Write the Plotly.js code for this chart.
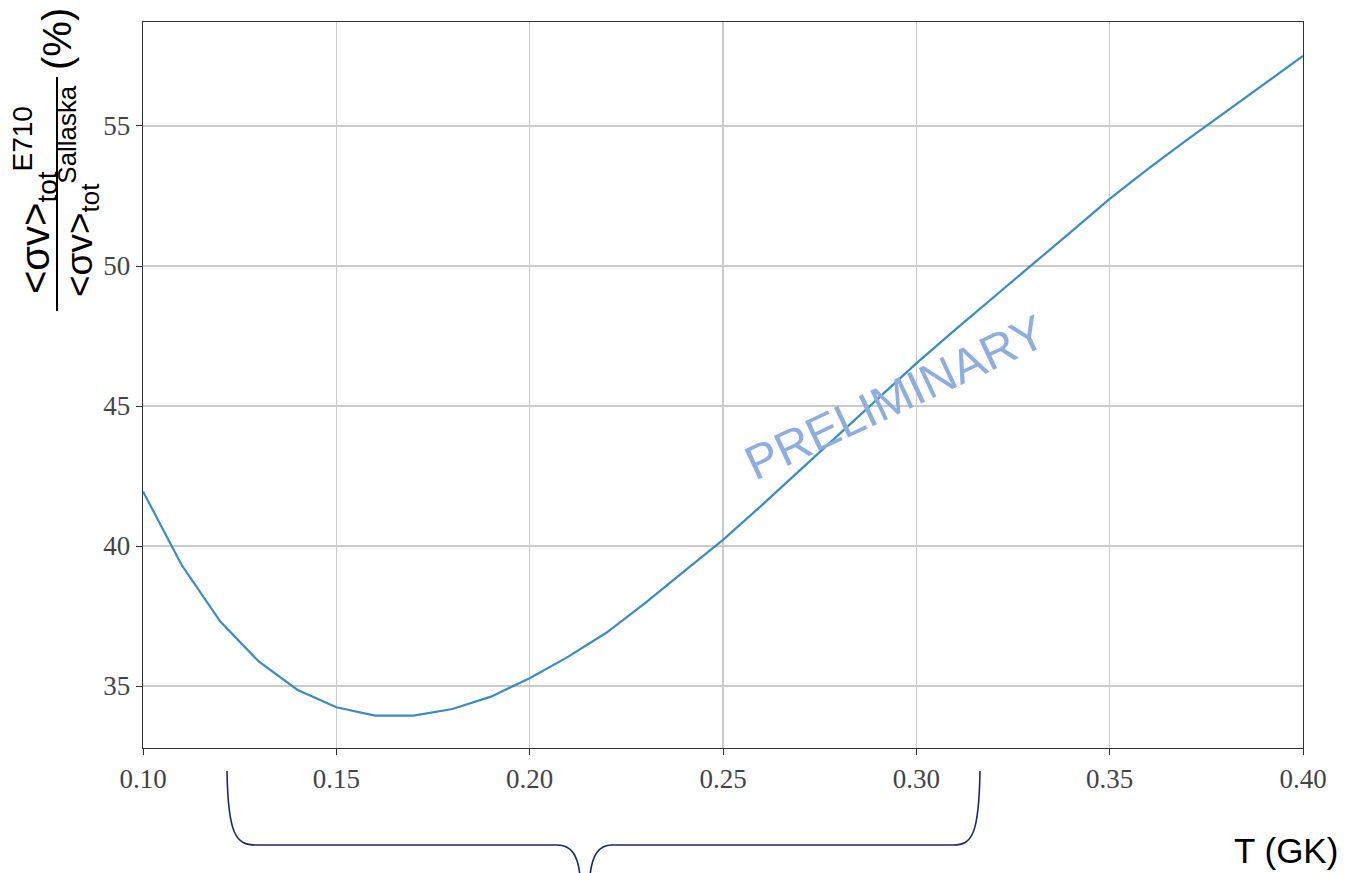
<!DOCTYPE html>
<html>
<head>
<meta charset="utf-8">
<script src="https://cdn.plot.ly/plotly-3.0.1.min.js"></script>
<style>html,body{margin:0;padding:0;background:#fff;}#chart{width:1345px;height:873px;}</style>
</head>
<body>
<div id="chart"></div>
<script>
// Temperature (GK)
const temperature = [0.10, 0.11, 0.12, 0.13, 0.14, 0.15, 0.16, 0.17, 0.18, 0.19, 0.20,
                     0.21, 0.22, 0.23, 0.24, 0.25, 0.26, 0.27, 0.28, 0.29, 0.30,
                     0.31, 0.32, 0.33, 0.34, 0.35, 0.36, 0.37, 0.38, 0.39, 0.40];
// Rate ratio E710 / Sallaska (%)
const rateRatio = [41.95, 39.32, 37.30, 35.87, 34.86, 34.24, 33.94, 33.94, 34.18, 34.62, 35.28,
                   36.05, 36.92, 37.98, 39.10, 40.22, 41.45, 42.72, 43.98, 45.25, 46.52,
                   47.72, 48.88, 50.03, 51.22, 52.40, 53.48, 54.50, 55.50, 56.50, 57.50];
const xTickValues = [0.10, 0.15, 0.20, 0.25, 0.30, 0.35, 0.40];
const yTickValues = [35, 40, 45, 50, 55];

// figure geometry helpers (plot area in pixels)
const L = 143, R = 1303, T = 22, B = 748;
const px = v => (v - L) / (R - L);
const py = v => (B - v) / (B - T);

const bracePath =
  'M ' + px(227) + ',' + py(771) +
  ' C ' + px(228) + ',' + py(835) + ' ' + px(236) + ',' + py(845) + ' ' + px(256) + ',' + py(845) +
  ' L ' + px(557) + ',' + py(845) +
  ' C ' + px(572) + ',' + py(845) + ' ' + px(578) + ',' + py(856) + ' ' + px(580) + ',' + py(876) +
  ' M ' + px(590) + ',' + py(876) +
  ' C ' + px(592) + ',' + py(856) + ' ' + px(598) + ',' + py(845) + ' ' + px(612) + ',' + py(845) +
  ' L ' + px(953) + ',' + py(845) +
  ' C ' + px(972) + ',' + py(845) + ' ' + px(979) + ',' + py(835) + ' ' + px(980) + ',' + py(771);

const sans = 'Liberation Sans, Arial, sans-serif';
const serif = 'Liberation Serif, Times New Roman, serif';

const data = [{
  x: temperature,
  y: rateRatio,
  type: 'scatter',
  mode: 'lines',
  line: {color: '#3a8cc4', width: 2.2},
  hoverinfo: 'x+y',
  showlegend: false
}];

const layout = {
  width: 1345, height: 873,
  margin: {l: L, r: 1345 - R, t: T, b: 873 - B, pad: 0},
  paper_bgcolor: '#ffffff',
  plot_bgcolor: '#ffffff',
  xaxis: {
    range: [0.10, 0.40],
    tickvals: xTickValues,
    tickformat: '.2f',
    ticks: 'outside', ticklen: 6, tickwidth: 1, tickcolor: '#333',
    showgrid: true, gridcolor: '#cbcbcb', gridwidth: 1.3,
    showline: true, linecolor: '#333', linewidth: 1.3, mirror: true,
    zeroline: false,
    tickfont: {family: serif, size: 27, color: '#444'}
  },
  yaxis: {
    range: [32.786, 58.714],
    tickvals: yTickValues,
    ticks: 'outside', ticklen: 6, tickwidth: 1, tickcolor: '#333',
    showgrid: true, gridcolor: '#cbcbcb', gridwidth: 1.3,
    showline: true, linecolor: '#333', linewidth: 1.3, mirror: true,
    zeroline: false,
    tickfont: {family: serif, size: 27, color: '#444'}
  },
  shapes: [
    {type: 'line', xref: 'paper', yref: 'paper', x0: px(57), x1: px(57), y0: py(311), y1: py(77),
     line: {color: '#000', width: 2}},
    {type: 'path', xref: 'paper', yref: 'paper', path: bracePath,
     line: {color: '#1c2a66', width: 1.6}}
  ],
  annotations: [
    {xref: 'paper', yref: 'paper', x: px(35), y: py(200), xanchor: 'center', yanchor: 'middle',
     text: '&lt;σv&gt;<sub>tot</sub><sup>E710</sup>', textangle: -90, showarrow: false,
     font: {family: sans, size: 40, color: '#000'}},
    {xref: 'paper', yref: 'paper', x: px(79), y: py(191), xanchor: 'center', yanchor: 'middle',
     text: '&lt;σv&gt;<sub>tot</sub><sup>Sallaska</sup>', textangle: -90, showarrow: false,
     font: {family: sans, size: 37, color: '#000'}},
    {xref: 'paper', yref: 'paper', x: px(57), y: py(39), xanchor: 'center', yanchor: 'middle',
     text: '(%)', textangle: -90, showarrow: false,
     font: {family: sans, size: 40, color: '#000'}},
    {xref: 'paper', yref: 'paper', x: px(1340), y: py(850), xanchor: 'right', yanchor: 'middle',
     text: 'T (GK)', showarrow: false,
     font: {family: sans, size: 35, color: '#000'}},
    {xref: 'x', yref: 'y', x: 0.2945, y: 45.3, xanchor: 'center', yanchor: 'middle',
     text: 'PRELIMINARY', textangle: -25, showarrow: false,
     font: {family: sans, size: 48, color: '#8eaee0'}}
  ]
};

Plotly.newPlot('chart', data, layout, {displayModeBar: false, staticPlot: true});
</script>
</body>
</html>
